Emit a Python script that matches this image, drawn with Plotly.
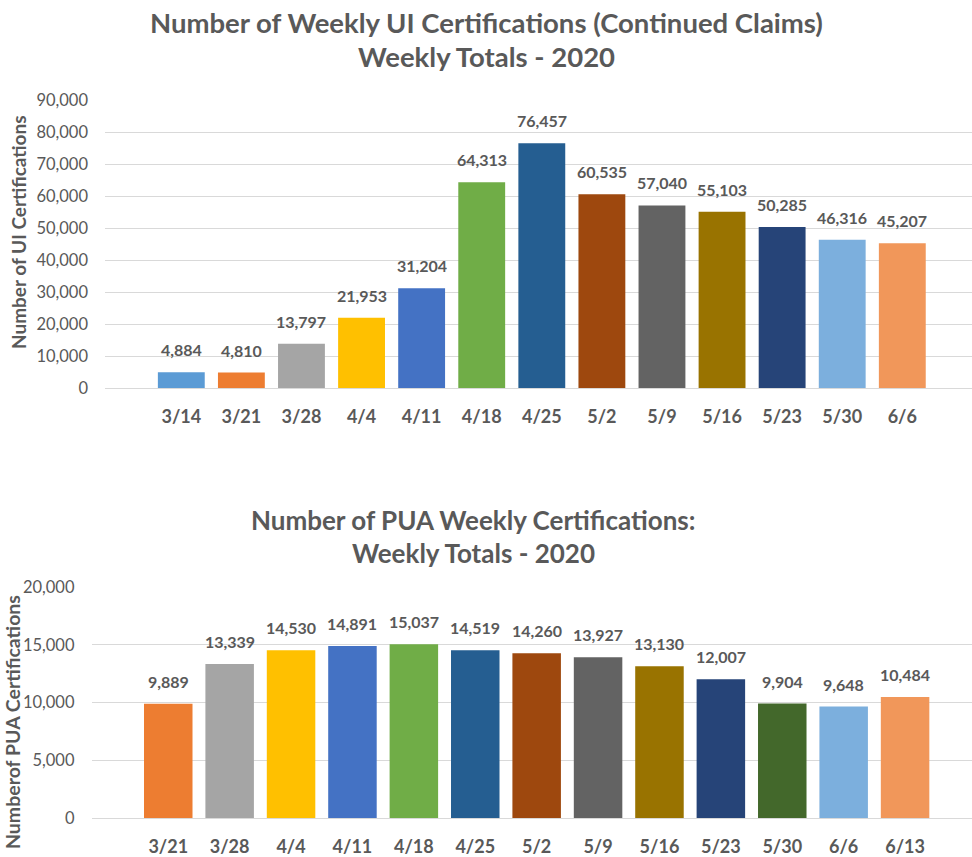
import plotly.graph_objects as go

# ---- Chart 1 data ----
ui_weeks = ["3/14", "3/21", "3/28", "4/4", "4/11", "4/18", "4/25", "5/2", "5/9", "5/16", "5/23", "5/30", "6/6"]
ui_values = [4884, 4810, 13797, 21953, 31204, 64313, 76457, 60535, 57040, 55103, 50285, 46316, 45207]
ui_colors = ["#5B9BD5", "#ED7D31", "#A5A5A5", "#FFC000", "#4472C4", "#70AD47", "#255E91",
             "#9E480E", "#636363", "#997300", "#264478", "#7CAFDD", "#F1975A"]

# ---- Chart 2 data ----
pua_weeks = ["3/21", "3/28", "4/4", "4/11", "4/18", "4/25", "5/2", "5/9", "5/16", "5/23", "5/30", "6/6", "6/13"]
pua_values = [9889, 13339, 14530, 14891, 15037, 14519, 14260, 13927, 13130, 12007, 9904, 9648, 10484]
pua_colors = ["#ED7D31", "#A5A5A5", "#FFC000", "#4472C4", "#70AD47", "#255E91", "#9E480E",
              "#636363", "#997300", "#264478", "#43682B", "#7CAFDD", "#F1975A"]

FONT = "Lato"
GRAY = "#595959"
W, H = 972, 857


def px_x(px):
    return px / W


def px_y(px):
    return 1 - px / H


fig = go.Figure()
fig.add_trace(go.Bar(x=ui_weeks, y=ui_values, marker=dict(color=ui_colors, line=dict(width=0)),
                     width=0.78, xaxis="x", yaxis="y", showlegend=False, hoverinfo="x+y"))
fig.add_trace(go.Bar(x=pua_weeks, y=pua_values, marker=dict(color=pua_colors, line=dict(width=0)),
                     width=0.79, xaxis="x2", yaxis="y2", showlegend=False, hoverinfo="x+y"))

annotations = []
for wk, v in zip(ui_weeks, ui_values):
    annotations.append(dict(x=wk, y=v, xref="x", yref="y", text=f"{v:,}", showarrow=False,
                            yanchor="bottom", yshift=11,
                            font=dict(family=FONT, size=16, color=GRAY, weight="bold")))
for wk, v in zip(pua_weeks, pua_values):
    annotations.append(dict(x=wk, y=v, xref="x2", yref="y2", text=f"{v:,}", showarrow=False,
                            yanchor="bottom", yshift=11,
                            font=dict(family=FONT, size=16, color=GRAY, weight="bold")))


def label(text, x, y, size, angle=0):
    annotations.append(dict(x=px_x(x), y=px_y(y), xref="paper", yref="paper", text=text,
                            textangle=angle, xanchor="center", yanchor="middle",
                            showarrow=False, font=dict(family=FONT, size=size, color=GRAY)))


# titles
label("<b>Number of Weekly UI Certifications (Continued Claims)</b>", 487, 23, 27.5)
label("<b>Weekly Totals - 2020</b>", 487, 57, 27.5)
label("<b>Number of PUA Weekly Certifications:</b>", 473, 520, 26)
label("<b>Weekly Totals - 2020</b>", 473, 553, 26)
# y-axis titles
label("<b>Number of UI Certifications</b>", 18, 232, 19, -90)
label("<b>Numberof PUA Certifications</b>", 12, 722, 19.5, -90)

xcommon = dict(type="category", showgrid=False, showline=False, ticks="", automargin=False,
               ticklabelstandoff=16,
               tickfont=dict(family=FONT, size=18, color=GRAY, weight="bold"))
ycommon = dict(tickformat=",", showgrid=True, gridcolor="#D9D9D9", gridwidth=1,
               zeroline=True, zerolinecolor="#D9D9D9", zerolinewidth=1, showline=False,
               ticks="", ticklabelstandoff=16, automargin=False,
               tickfont=dict(family=FONT, size=16.5, color=GRAY))

fig.update_layout(
    width=W, height=H,
    margin=dict(l=0, r=0, t=0, b=0, autoexpand=False),
    paper_bgcolor="white", plot_bgcolor="white",
    annotations=annotations,
    xaxis=dict(domain=[px_x(105), 1], anchor="y", range=[-1.27, 13.16], **xcommon),
    yaxis=dict(domain=[px_y(388), px_y(100)], anchor="x", range=[0, 90000], dtick=10000, **ycommon),
    xaxis2=dict(domain=[px_x(91.5), 1], anchor="y2", range=[-1.25, 13.09], **xcommon),
    yaxis2=dict(domain=[px_y(818), px_y(587)], anchor="x2", range=[0, 20000], dtick=5000, **ycommon),
)

fig.write_html("out.html",
               config={"displayModeBar": False},
               post_script="document.body.style.margin='0px';document.body.style.overflow='hidden';")
